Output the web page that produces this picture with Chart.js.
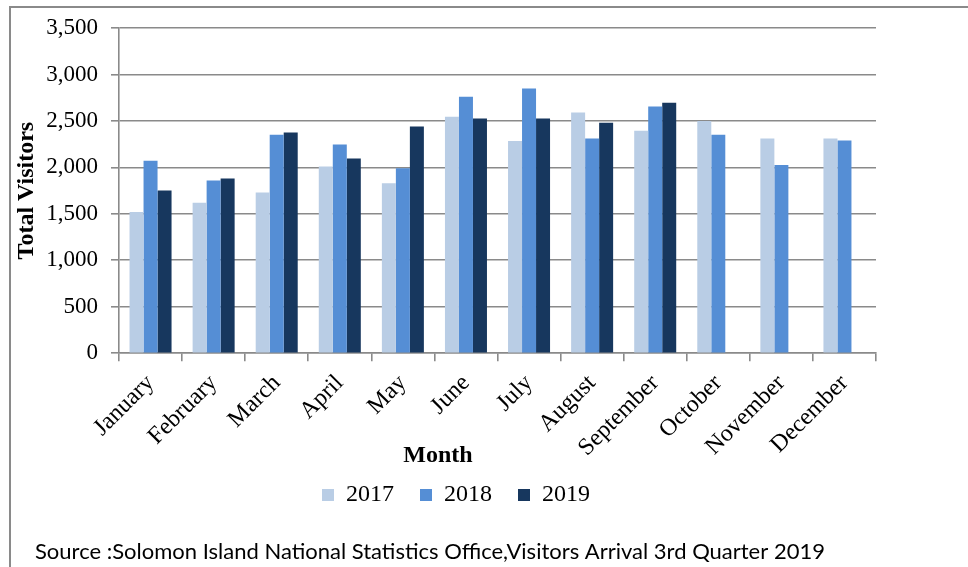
<!DOCTYPE html>
<html>
<head>
<meta charset="utf-8">
<script src="https://cdn.jsdelivr.net/npm/chart.js@4/dist/chart.umd.min.js"></script>
<style>
  html, body { margin: 0; padding: 0; background: #fff; }
  #wrap { position: relative; width: 968px; height: 567px; }
</style>
</head>
<body>
<div id="wrap"><canvas id="chart" width="968" height="567"></canvas></div>
<script>
const months = ['January', 'February', 'March', 'April', 'May', 'June',
  'July', 'August', 'September', 'October', 'November', 'December'];
const visitors2017 = [1520, 1620, 1730, 2010, 1830, 2545, 2285, 2590, 2395, 2500, 2310, 2310];
const visitors2018 = [2070, 1860, 2350, 2245, 1990, 2760, 2850, 2310, 2655, 2350, 2025, 2290];
const visitors2019 = [1750, 1880, 2375, 2095, 2440, 2525, 2525, 2480, 2695, null, null, null];
const yearLabels = ['2017', '2018', '2019'];
const yearColors = ['#B9CDE5', '#558ED5', '#17375E'];
const yTicks = [0, 500, 1000, 1500, 2000, 2500, 3000, 3500];
const sourceNote = 'Source :Solomon Island National Statistics Office,Visitors Arrival 3rd Quarter 2019';

const serif = '"Liberation Serif", "Times New Roman", serif';
const gridGray = '#8a8a8a';

// outer frame + source line, and nudge the legend to where the original sits
const framePlugin = {
  id: 'frame',
  afterLayout(chart) {
    const lg = chart.legend;
    lg.left += 18; lg.right += 18;
    lg.top -= 13; lg.bottom -= 13;
  },
  beforeDraw(chart) {
    const ctx = chart.ctx;
    ctx.save();
    ctx.strokeStyle = gridGray;
    ctx.lineWidth = 2;
    ctx.beginPath();
    ctx.moveTo(10, 567);
    ctx.lineTo(10, 7);
    ctx.lineTo(968, 7);
    ctx.stroke();
    ctx.restore();
  },
  afterDraw(chart) {
    const ctx = chart.ctx;
    ctx.save();
    ctx.font = '20px Lato';
    const w = ctx.measureText(sourceNote).width;
    const size = 20 * 790 / w;
    ctx.font = size.toFixed(2) + 'px Lato';
    ctx.fillStyle = '#000';
    ctx.textBaseline = 'alphabetic';
    ctx.fillText(sourceNote, 35, 559);
    ctx.restore();
  }
};

new Chart(document.getElementById('chart'), {
  type: 'bar',
  data: {
    labels: months,
    datasets: [visitors2017, visitors2018, visitors2019].map((d, i) => ({
      label: yearLabels[i],
      data: d,
      backgroundColor: yearColors[i],
      borderWidth: 0,
      categoryPercentage: 0.666,
      barPercentage: 1.0
    }))
  },
  options: {
    responsive: false,
    animation: false,
    layout: { padding: { left: 0, right: 92, top: 28, bottom: 37 } },
    plugins: {
      tooltip: { enabled: false },
      legend: {
        position: 'bottom',
        labels: {
          boxWidth: 12,
          boxHeight: 12,
          padding: 26,
          color: '#000',
          font: { family: serif, size: 24 }
        }
      },
      title: {
        display: true,
        position: 'bottom',
        weight: 500,
        text: 'Month',
        color: '#000',
        // the month title sits inside the rotated-label band, as in the original
        padding: { top: -22, bottom: 0 },
        font: { family: serif, size: 24, weight: 'bold' }
      }
    },
    scales: {
      x: {
        afterFit: (s) => { s.height = 110; },
        grid: {
          display: true,
          drawOnChartArea: false,
          drawTicks: true,
          tickLength: 8,
          offset: true,
          color: gridGray,
          lineWidth: 1.6
        },
        border: { color: gridGray, width: 1.6 },
        ticks: {
          color: '#000',
          minRotation: 45,
          maxRotation: 45,
          padding: 8,
          autoSkip: false,
          font: { family: serif, size: 24 }
        }
      },
      y: {
        min: 0,
        max: 3500,
        afterFit: (s) => { s.width = 119; },
        afterBuildTicks: (s) => { s.ticks = yTicks.map(v => ({ value: v })); },
        grid: {
          color: gridGray,
          lineWidth: 1.6,
          tickLength: 8
        },
        border: { color: gridGray, width: 1.6 },
        title: {
          display: true,
          text: 'Total Visitors',
          color: '#000',
          padding: { top: 12, bottom: 0 },
          font: { family: serif, size: 24, weight: 'bold' }
        },
        ticks: {
          color: '#000',
          padding: 13,
          font: { family: serif, size: 23 }
        }
      }
    }
  },
  plugins: [framePlugin]
});
</script>
</body>
</html>
